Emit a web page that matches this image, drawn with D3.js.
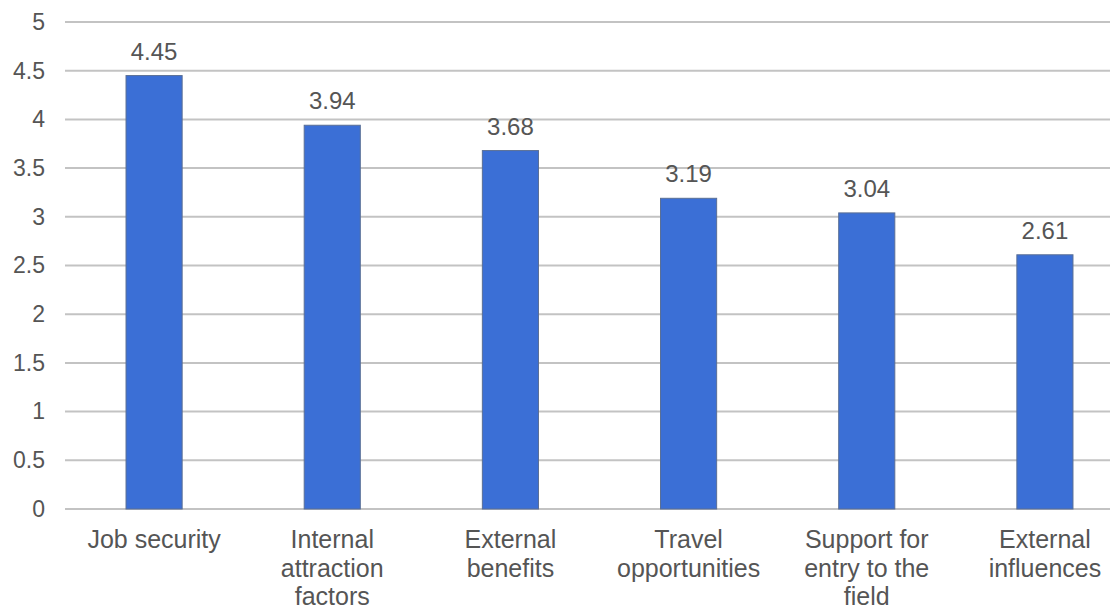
<!DOCTYPE html>
<html><head><meta charset="utf-8">
<script src="https://cdn.jsdelivr.net/npm/d3@7/dist/d3.min.js"></script>
<style>body{margin:0;background:#fff}svg{display:block}</style>
</head><body>
<svg id="c" width="1110" height="612"></svg>
<script>
const categories = [
  ["Job security"],
  ["Internal","attraction","factors"],
  ["External","benefits"],
  ["Travel","opportunities"],
  ["Support for","entry to the","field"],
  ["External","influences"]
];
const values = [4.45, 3.94, 3.68, 3.19, 3.04, 2.61];
const yTicks = [0,0.5,1,1.5,2,2.5,3,3.5,4,4.5,5];
const yTickLabels = ["0","0.5","1","1.5","2","2.5","3","3.5","4","4.5","5"];

const svg = d3.select("#c");
const font = "'Liberation Sans', Arial, sans-serif";
const txt = "#555555";
const keys = categories.map((c,i)=>i);
const x = d3.scaleBand().domain(keys).range([65, 1134]).paddingInner(0.685).paddingOuter(0.3425);
const y = d3.scaleLinear().domain([0,5]).range([509, 22]);

// gridlines
svg.append("g").selectAll("line").data(yTicks).join("line")
  .attr("x1",65).attr("x2",1110)
  .attr("y1",d=>y(d)).attr("y2",d=>y(d))
  .attr("stroke","#c3c3c3").attr("stroke-width",2);

// y axis labels
const yAxis = d3.axisLeft(y).tickValues(yTicks).tickFormat((d,i)=>yTickLabels[i]).tickSize(0).tickPadding(0);
const ga = svg.append("g").attr("transform","translate(45,0)").call(yAxis);
ga.select(".domain").remove();
ga.selectAll("text").attr("font-family",font).attr("font-size",23).attr("fill",txt);

// bars
svg.append("g").selectAll("rect").data(values).join("rect")
  .attr("x",(d,i)=>x(i)).attr("width",x.bandwidth())
  .attr("y",d=>y(d)).attr("height",d=>y(0)-y(d))
  .attr("fill","#3b6fd6").attr("stroke","#5a6f95").attr("stroke-width",1);

// value labels
svg.append("g").selectAll("text").data(values).join("text")
  .attr("x",(d,i)=>x(i)+x.bandwidth()/2).attr("y",d=>y(d)-16)
  .attr("text-anchor","middle").attr("font-family",font).attr("font-size",24).attr("fill",txt)
  .text(d=>d.toFixed(2));

// category labels
const gx = svg.append("g");
categories.forEach((lines,i)=>{
  const t = gx.append("text").attr("text-anchor","middle").attr("font-family",font)
    .attr("font-size",25).attr("fill",txt);
  lines.forEach((l,j)=>{
    t.append("tspan").attr("x",x(i)+x.bandwidth()/2).attr("y",548+j*28.5).text(l);
  });
});
</script>
</body></html>
